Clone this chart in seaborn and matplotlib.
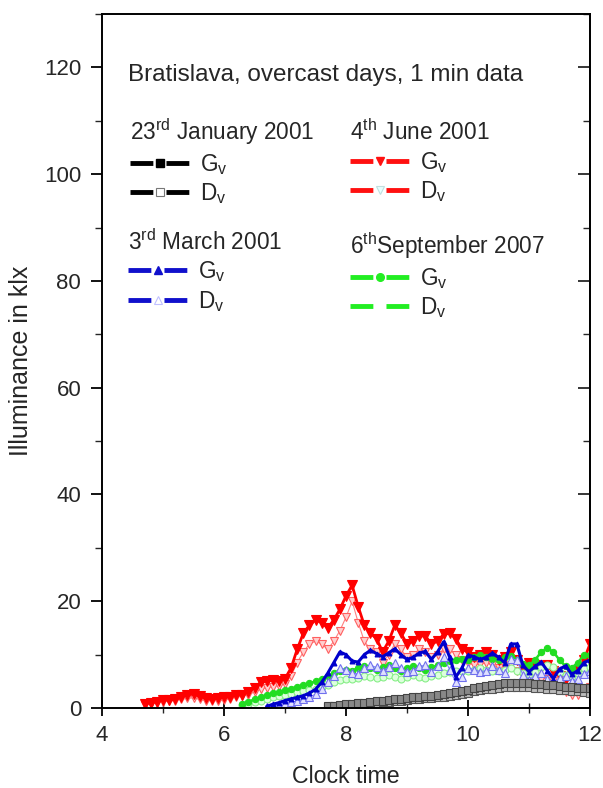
import numpy as np
import pandas as pd
import seaborn as sns
import matplotlib
matplotlib.use("Agg")
import matplotlib.pyplot as plt
from matplotlib.lines import Line2D
from matplotlib.ticker import MultipleLocator

# ---------------- data (klx vs clock time in h) ----------------
t_jun = [4.7, 4.8, 4.9, 5.0, 5.1, 5.2, 5.3, 5.4, 5.5, 5.6, 5.7, 5.8, 5.9, 6.0, 6.1, 6.2, 6.3, 6.4,
         6.5, 6.6, 6.7, 6.8, 6.9, 7.0, 7.1, 7.2, 7.3, 7.4, 7.5, 7.6, 7.7, 7.8, 7.9, 8.0, 8.1, 8.2,
         8.3, 8.4, 8.5, 8.6, 8.7, 8.8, 8.9, 9.0, 9.1, 9.2, 9.3, 9.4, 9.5, 9.6, 9.7, 9.8, 9.9, 10.0,
         10.1, 10.2, 10.3, 10.4, 10.5, 10.6, 10.7, 10.8, 10.9, 11.0, 11.1, 11.2, 11.3, 11.4, 11.5,
         11.6, 11.7, 11.8, 11.9, 12.0]
gv_jun = [0.8, 1.0, 1.2, 1.5, 1.5, 1.6, 2.0, 2.5, 2.6, 2.2, 1.8, 1.6, 1.8, 2.0, 2.1, 2.4, 2.5, 3.0,
          3.8, 4.8, 5.0, 5.2, 5.0, 5.5, 7.5, 11.0, 14.0, 15.5, 16.5, 16.0, 15.0, 16.5, 18.5, 21.0, 23.0, 19.0,
          15.5, 14.0, 13.0, 10.5, 12.5, 15.5, 14.0, 12.0, 12.5, 13.5, 13.5, 12.0, 12.5, 13.8, 14.0, 13.0, 11.0, 10.5,
          9.5, 10.0, 10.5, 10.0, 9.0, 9.5, 10.5, 9.0, 7.5, 8.5, 8.0, 7.5, 8.0, 7.0, 6.0,
          5.5, 6.0, 7.0, 9.0, 12.0]
dv_jun = [0.5, 0.8, 1.0, 1.2, 1.3, 1.4, 1.6, 1.8, 1.9, 1.6, 1.4, 1.3, 1.4, 1.5, 1.7, 2.0, 2.2, 2.5,
          3.0, 3.5, 3.8, 4.0, 4.2, 4.5, 6.0, 8.5, 10.5, 12.0, 12.5, 12.0, 11.0, 12.5, 14.5, 17.0, 20.0, 16.0,
          12.5, 11.0, 10.5, 8.5, 10.0, 12.0, 11.0, 9.5, 10.0, 11.0, 10.5, 9.5, 10.0, 11.0, 11.0, 10.0, 9.0, 8.5,
          8.0, 8.2, 8.5, 8.0, 7.5, 7.8, 8.0, 7.0, 6.0, 6.5, 6.0, 5.5, 5.5, 5.0, 4.0,
          3.0, 2.5, 2.5, 3.0, 4.0]

t_mar = [6.7, 6.8, 6.9, 7.0, 7.1, 7.2, 7.3, 7.4, 7.5, 7.6, 7.7, 7.8, 7.9, 8.0, 8.1, 8.2, 8.3, 8.4,
         8.5, 8.6, 8.7, 8.8, 8.9, 9.0, 9.1, 9.2, 9.3, 9.4, 9.5, 9.6, 9.7, 9.8, 9.9, 10.0, 10.1, 10.2,
         10.3, 10.4, 10.5, 10.6, 10.7, 10.8, 10.9, 11.0, 11.1, 11.2, 11.3, 11.4, 11.5, 11.6, 11.7,
         11.8, 11.9, 12.0]
gv_mar = [0.3, 0.7, 1.0, 1.4, 1.7, 2.0, 2.3, 2.8, 3.5, 4.8, 6.5, 8.5, 10.5, 10.0, 8.8, 8.6, 10.0, 10.8,
          10.2, 9.6, 10.3, 11.1, 10.0, 9.1, 9.5, 10.3, 10.6, 9.1, 10.5, 12.4, 9.5, 5.8, 7.5, 9.9, 9.6, 9.1,
          9.5, 10.3, 9.5, 8.5, 12.0, 12.0, 8.0, 6.8, 7.8, 8.6, 7.0, 5.5, 7.3, 7.9, 6.3,
          7.0, 8.5, 9.0]
dv_mar = [0.2, 0.4, 0.6, 0.9, 1.1, 1.3, 1.6, 2.0, 2.6, 3.5, 4.8, 6.0, 7.5, 7.2, 6.5, 6.4, 7.4, 8.0,
          7.6, 7.0, 7.6, 8.4, 7.4, 6.8, 7.0, 7.8, 8.0, 6.8, 7.8, 9.5, 7.2, 4.8, 5.8, 7.5, 7.2, 6.8,
          7.0, 7.8, 7.2, 6.5, 9.2, 9.0, 6.2, 5.3, 6.0, 6.6, 5.5, 4.5, 5.6, 6.0, 5.0,
          5.4, 6.4, 7.0]

t_sep = [6.3, 6.4, 6.5, 6.6, 6.7, 6.8, 6.9, 7.0, 7.1, 7.2, 7.3, 7.4, 7.5, 7.6, 7.7, 7.8, 7.9, 8.0,
         8.1, 8.2, 8.3, 8.4, 8.5, 8.6, 8.7, 8.8, 8.9, 9.0, 9.1, 9.2, 9.3, 9.4, 9.5, 9.6, 9.7, 9.8,
         9.9, 10.0, 10.1, 10.2, 10.3, 10.4, 10.5, 10.6, 10.7, 10.8, 10.9, 11.0, 11.1, 11.2, 11.3,
         11.4, 11.5, 11.6, 11.7, 11.8, 11.9, 12.0]
gv_sep = [0.8, 1.2, 1.6, 2.0, 2.4, 2.8, 3.0, 3.3, 3.6, 4.0, 4.3, 4.6, 5.0, 5.5, 6.0, 6.5, 7.0, 7.2,
          7.0, 7.5, 7.8, 7.5, 7.2, 7.6, 8.0, 7.5, 7.0, 7.4, 7.8, 7.5, 7.2, 7.6, 8.0, 8.5, 8.8, 9.0,
          9.2, 9.0, 9.5, 9.9, 9.5, 9.2, 9.0, 9.5, 9.8, 9.0, 8.2, 8.0, 9.0, 10.5, 11.2,
          10.5, 9.0, 7.8, 7.5, 8.5, 9.9, 10.0]
dv_sep = [0.5, 0.8, 1.1, 1.4, 1.7, 2.0, 2.2, 2.5, 2.7, 3.0, 3.2, 3.4, 3.6, 4.0, 4.4, 4.8, 5.2, 5.5,
          5.4, 5.7, 6.0, 5.8, 5.6, 5.9, 6.2, 5.9, 5.5, 5.8, 6.1, 5.9, 5.7, 6.0, 6.2, 6.5, 6.8, 7.0,
          7.0, 6.9, 7.2, 7.5, 7.2, 7.0, 6.9, 7.2, 7.4, 7.0, 6.5, 6.3, 6.8, 7.6, 8.0,
          7.6, 6.8, 6.2, 6.0, 6.6, 7.4, 7.6]

t_jan = [7.7, 7.8, 7.9, 8.0, 8.1, 8.2, 8.3, 8.4, 8.5, 8.6, 8.7, 8.8, 8.9, 9.0, 9.1, 9.2, 9.3, 9.4,
         9.5, 9.6, 9.7, 9.8, 9.9, 10.0, 10.1, 10.2, 10.3, 10.4, 10.5, 10.6, 10.7, 10.8, 10.9, 11.0,
         11.1, 11.2, 11.3, 11.4, 11.5, 11.6, 11.7, 11.8, 11.9, 12.0]
gv_jan = [0.3, 0.4, 0.6, 0.7, 0.8, 1.0, 1.0, 1.2, 1.3, 1.4, 1.5, 1.6, 1.7, 1.9, 2.0, 2.1, 2.2, 2.3,
          2.5, 2.6, 2.8, 3.0, 3.2, 3.4, 3.7, 3.9, 4.1, 4.3, 4.5, 4.6, 4.7, 4.7, 4.6, 4.6,
          4.5, 4.5, 4.4, 4.3, 4.2, 4.0, 3.9, 3.8, 3.8, 3.7]
dv_jan = [0.2, 0.3, 0.4, 0.5, 0.6, 0.7, 0.8, 0.9, 1.0, 1.1, 1.2, 1.3, 1.4, 1.5, 1.6, 1.7, 1.8, 1.9,
          2.0, 2.1, 2.3, 2.5, 2.7, 2.9, 3.1, 3.3, 3.5, 3.6, 3.8, 3.9, 4.0, 4.0, 3.9, 3.9,
          3.8, 3.7, 3.6, 3.5, 3.4, 3.3, 3.2, 3.1, 3.0, 2.9]

x_ticks = [4, 6, 8, 10, 12]
y_ticks = [0, 20, 40, 60, 80, 100, 120]

# ---------------- style ----------------
sns.set_style("ticks")
plt.rcParams["font.family"] = ["Liberation Sans", "DejaVu Sans"]
plt.rcParams["mathtext.fontset"] = "custom"
plt.rcParams["mathtext.rm"] = "Liberation Sans"
plt.rcParams["mathtext.it"] = "Liberation Sans:italic"
plt.rcParams["mathtext.bf"] = "Liberation Sans:bold"

FS_TICK = 16
FS_TXT = 17.5
FS_LEG = 16.3

fig = plt.figure(figsize=(6.03, 7.88), dpi=100)
ax = fig.add_axes([102 / 603, 1 - 708 / 788, 488 / 603, 694 / 788])

series = [
    # (t, v, color, marker, mfc, mec, lw, ms)
    (t_jun, dv_jun, "#ff8080", "v", "#ffd0d0", "#ff6060", 0.8, 6.0),
    (t_jun, gv_jun, "#ff0000", "v", "#ff0000", "#ff0000", 2.0, 6.5),
    (t_sep, dv_sep, "#99ee99", "o", "#ddffdd", "#88ee88", 0.8, 5.0),
    (t_sep, gv_sep, "#22dd22", "o", "#22dd22", "#22dd22", 1.8, 4.5),
    (t_mar, dv_mar, "#8080ff", "^", "#e0e0ff", "#7070ee", 0.8, 6.0),
    (t_mar, gv_mar, "#0000cc", "^", "#0000cc", "#0000cc", 2.2, 3.5),
    (t_jan, dv_jan, "#555555", "s", "#bbbbbb", "#555555", 0.8, 5.5),
    (t_jan, gv_jan, "#444444", "s", "#888888", "#444444", 1.0, 5.5),
]
for t, v, col, mk, mfc, mec, lw, ms in series:
    df = pd.DataFrame({"t": t, "v": v})
    sns.lineplot(data=df, x="t", y="v", ax=ax, color=col, lw=lw, marker=mk,
                 markersize=ms, markerfacecolor=mfc, markeredgecolor=mec,
                 markeredgewidth=0.8, legend=False, estimator=None, sort=False)

ax.set_xlim(4, 12)
ax.set_ylim(0, 130)
ax.set_xticks(x_ticks)
ax.set_yticks(y_ticks)
ax.xaxis.set_minor_locator(MultipleLocator(1))
ax.yaxis.set_minor_locator(MultipleLocator(10))
ax.tick_params(axis="both", which="major", labelsize=FS_TICK, width=1.3, color="black")
ax.tick_params(axis="x", which="major", direction="inout", length=12, pad=6)
ax.tick_params(axis="x", which="minor", direction="inout", length=7, width=1.0)
ax.tick_params(axis="y", which="major", direction="out", length=8, pad=7)
ax.tick_params(axis="y", which="minor", direction="out", length=5, width=1.0)
ax.tick_params(axis="y", which="both", right=False)
for s in ax.spines.values():
    s.set_linewidth(1.4)
    s.set_color("black")
ax.set_xlabel("Clock time", fontsize=16.7, labelpad=14)
ax.set_ylabel("Illuminance in klx", fontsize=18, labelpad=8)

# right side ticks inward
ax2 = ax.secondary_yaxis("right")
ax2.set_yticks(y_ticks)
ax2.yaxis.set_minor_locator(MultipleLocator(10))
ax2.tick_params(which="major", direction="in", length=9, labelright=False, width=1.3)
ax2.tick_params(which="minor", direction="in", length=5, labelright=False, width=1.0)
ax2.spines["right"].set_linewidth(1.4)

ax.text(0.053, 0.912, "Bratislava, overcast days, 1 min data", transform=ax.transAxes,
        fontsize=FS_TXT, ha="left", va="center")


def group_legend(title, color, mk_g, mk_d, mfc_g, mfc_d, mec_d, anchor):
    ls = (0, (4.7, 2.7))
    hs = [Line2D([], [], color=color, lw=3.5, ls=ls, marker=mk_g, ms=5.5,
                 mfc=mfc_g, mec=mfc_g),
          Line2D([], [], color=color, lw=3.5, ls=ls, marker=mk_d, ms=5.5,
                 mfc=mfc_d, mec=mec_d, mew=0.8)]
    leg = ax.legend(hs, ["G$_{\\rm v}$", "D$_{\\rm v}$"], title=title, loc="upper left",
                    bbox_to_anchor=anchor, frameon=False, fontsize=FS_LEG, title_fontsize=FS_LEG,
                    handlelength=2.65, handletextpad=0.45, labelspacing=0.2, borderpad=0,
                    borderaxespad=0, alignment="left")
    ax.add_artist(leg)
    return leg


group_legend("23$^{\\rm rd}$ January 2001", "black", "s", "s", "black", "white", "#777777", (0.057, 0.852))
group_legend("4$^{\\rm th}$ June 2001", "#ff1010", "v", "v", "#ff1010", "#e8ffff", "#c0e0e0", (0.508, 0.848))
group_legend("3$^{\\rm rd}$ March 2001", "#1010cc", "^", "^", "#1010cc", "white", "#c0c0ff", (0.053, 0.690))
group_legend("6$^{\\rm th}$September 2007", "#22ee22", "o", "o", "#22ee22", "white", "white", (0.508, 0.688))
ax.legend_ = None

fig.savefig("out.png", dpi=100)
